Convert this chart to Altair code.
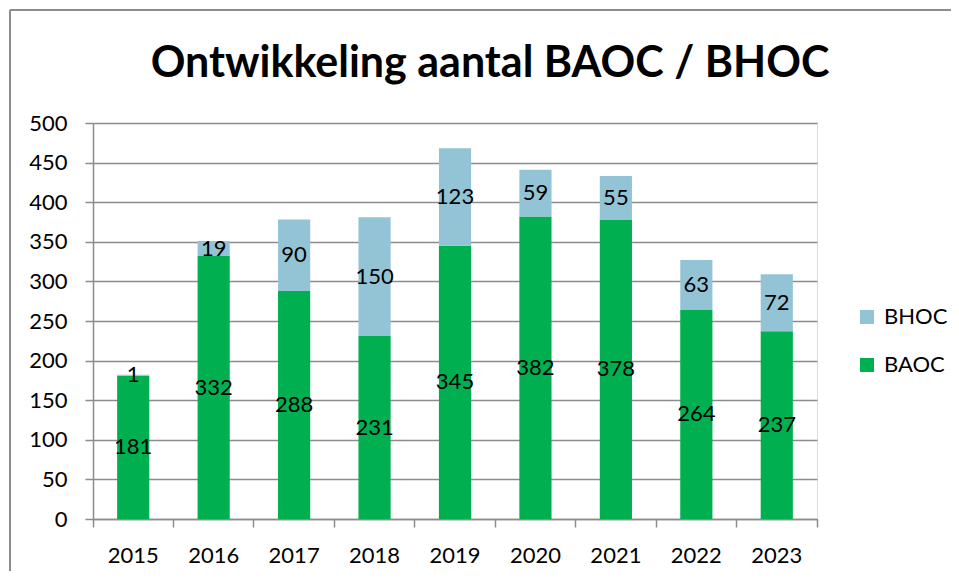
import altair as alt
import pandas as pd

years = ["2015", "2016", "2017", "2018", "2019", "2020", "2021", "2022", "2023"]
baoc = [181, 332, 288, 231, 345, 382, 378, 264, 237]
bhoc = [1, 19, 90, 150, 123, 59, 55, 63, 72]
legend_order = ["BHOC", "BAOC"]
legend_colors = ["#93C4D6", "#00B050"]
y_ticks = [0, 50, 100, 150, 200, 250, 300, 350, 400, 450, 500]

rows = []
for i, yr in enumerate(years):
    rows.append({"year": yr, "serie": "BAOC", "value": baoc[i], "ord": 0})
    rows.append({"year": yr, "serie": "BHOC", "value": bhoc[i], "ord": 1})
df = pd.DataFrame(rows)

FONT = "Lato"
GRAY = "#8c8c8c"
W, H = 724, 396

x_enc = alt.X(
    "year:N", sort=years, title=None,
    scale=alt.Scale(paddingInner=0, paddingOuter=0),
    axis=alt.Axis(bandPosition=1, tickExtra=True, labelAngle=0,
                  tickSize=8, tickColor=GRAY, tickWidth=1.5, domainColor=GRAY, domainWidth=1.5,
                  labelFontSize=22, labelFont=FONT, labelColor="black", labelPadding=18, grid=False),
)
y_axis = alt.Axis(values=y_ticks, tickSize=8, tickColor=GRAY, tickWidth=1.5, domainColor=GRAY,
                  domainWidth=1.5, gridColor=GRAY, gridWidth=1.5, labelFontSize=22, labelFont=FONT,
                  labelColor="black", labelPadding=18)

base = alt.Chart(df)

bars = base.mark_bar(width=alt.RelativeBandSize(0.4)).encode(
    x=x_enc,
    y=alt.Y("value:Q", stack="zero", title=None, scale=alt.Scale(domain=[0, 500]), axis=y_axis),
    color=alt.Color("serie:N", scale=alt.Scale(domain=legend_order, range=legend_colors),
                    legend=alt.Legend(title=None, orient="none", legendX=763, legendY=183,
                                      symbolType="square", symbolSize=196, symbolStrokeWidth=0,
                                      labelFontSize=22, labelFont=FONT, labelColor="black",
                                      rowPadding=26, labelOffset=6)),
    order=alt.Order("ord:Q", sort="ascending"),
)

labels = base.transform_stack(
    stack="value", groupby=["year"], as_=["v0", "v1"],
    sort=[alt.SortField("ord", order="ascending")],
).transform_calculate(mid="(datum.v0 + datum.v1) / 2").mark_text(
    fontSize=22, font=FONT, color="black", baseline="middle", align="center"
).encode(
    x=x_enc,
    y=alt.Y("mid:Q", title=None, scale=alt.Scale(domain=[0, 500]), axis=y_axis),
    text="value:Q",
)

frame_df = pd.DataFrame({"k": [0]})
frame_left = alt.Chart(frame_df).mark_rule(color=GRAY, strokeWidth=2).encode(
    x=alt.value(-83), y=alt.value(-113), y2=alt.value(H + 80))
frame_top = alt.Chart(frame_df).mark_rule(color=GRAY, strokeWidth=2).encode(
    x=alt.value(-83), x2=alt.value(W + 200), y=alt.value(-113))

chart = alt.layer(bars, labels, frame_left, frame_top).properties(
    width=W, height=H,
    autosize="none",
    padding={"left": 85, "top": 115, "right": 134, "bottom": 52},
    title=alt.TitleParams("Ontwikkeling aantal BAOC / BHOC", fontSize=43, fontWeight="bold",
                          font=FONT, anchor="middle", dx=35, dy=97, offset=20, color="black"),
).configure_view(stroke=None).configure(font=FONT)

chart.save("out.html", embed_options={"renderer": "svg", "actions": False})
